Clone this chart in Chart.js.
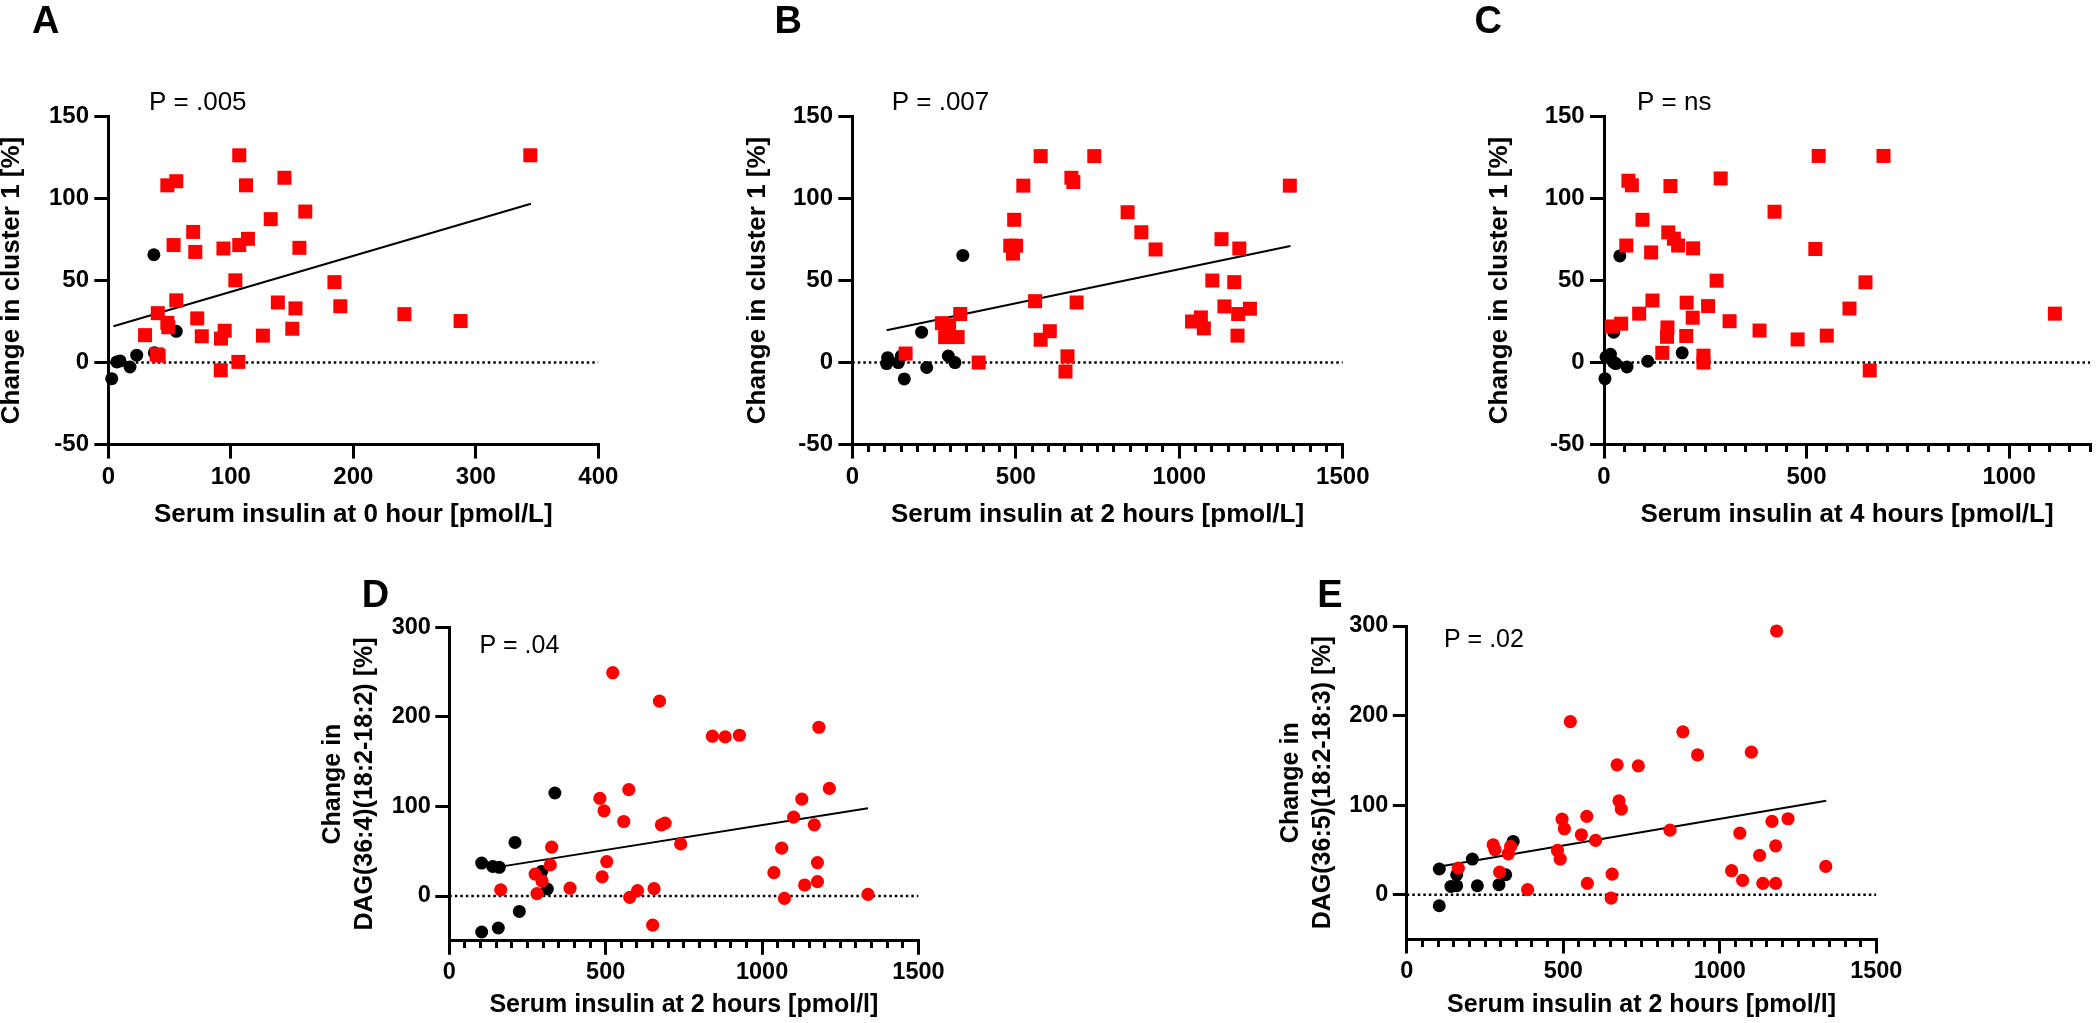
<!DOCTYPE html>
<html><head><meta charset="utf-8">
<script src="https://cdn.jsdelivr.net/npm/chart.js@4.4.1/dist/chart.umd.min.js"></script>
<style>
html,body{margin:0;padding:0;background:#fff;width:2100px;height:1023px;overflow:hidden;position:relative}
canvas{position:absolute}
</style></head><body>
<canvas id="cA"></canvas><canvas id="cB"></canvas><canvas id="cC"></canvas><canvas id="cD"></canvas><canvas id="cE"></canvas>
<script>
// ---------- tick labels ----------
const yTicksTop = [-50, 0, 50, 100, 150];
const yTicksBottom = [0, 100, 200, 300];
const xTicksA = [0, 100, 200, 300, 400];
const xTicks1500 = [0, 500, 1000, 1500];
const xTicksC = [0, 500, 1000];

// ---------- Panel A : insulin 0 h vs cluster 1 ----------
const redAx = [344.5,106.9,48.2,55.5,143.8,112.4,160.8,132.6,69.3,114.0,106.9,53.3,71.0,94.0,156.0,103.7,184.6,55.5,138.4,152.8,189.4,40.4,241.7,287.6,72.6,48.2,49.0,30.0,76.3,95.0,92.0,126.2,150.2,41.1,39.5,106.2,91.8];
const redAy = [126.3,126.3,108.0,110.5,112.6,108.0,92.0,87.4,79.6,75.4,71.6,71.6,67.4,69.5,69.9,50.1,49.0,37.9,36.6,33.0,34.3,30.1,29.5,25.3,26.9,24.2,21.5,16.7,16.0,19.4,14.6,16.4,20.6,4.2,5.0,0.4,-4.7];
const blackAx = [2.8,6.9,9.6,17.7,23.2,37.6,55.5,37.2];
const blackAy = [-9.8,0.4,1.0,-2.7,4.5,5.9,19.0,65.7];
const regAx = [4.2, 345];
const regAy = [22.1, 96.8];

// ---------- Panel B : insulin 2 h vs cluster 1 ----------
const redBx = [576,740,523,1338,670,676,495,842,884,927.5,483,501,491.5,1129,1183.5,1101,1168,559,686,1138,1216,1180,330,1039,1066,1075,274,296,284,322,604,576,1178,163,386.5,658,652];
const redBy = [125.8,125.8,107.8,107.8,112.6,110.0,87.0,91.6,79.4,68.9,71.2,71.2,66.4,75.2,69.5,50.0,49.0,37.4,36.6,34.2,32.8,29.6,29.6,25.0,27.5,20.8,24.0,22.7,15.5,15.5,19.1,13.9,16.4,5.5,0.0,3.8,-5.5];
const blackBx = [108,105,140.7,150,159,212,227.5,293.6,314,338];
const blackBy = [3.0,-0.6,0.0,4.0,-10.0,18.5,-3.0,4.0,0.0,65.3];
const regBx = [105, 1340];
const regBy = [19.7, 71.0];

// ---------- Panel C : insulin 4 h vs cluster 1 ----------
const redCx = [530,690,60.3,68.8,164,288,421,95,158.7,172.5,183,220,55,116.4,521.7,278,645.5,119.6,204,257,606,86.8,1113,310,42.3,19,219,156.6,155.5,203,384,478,550,143.9,245.5,245.5,656];
const redCy = [125.9,125.9,110.8,108.0,107.6,112.2,91.9,87.0,79.3,75.5,71.3,69.6,71.3,67.1,69.2,49.9,48.9,37.8,36.5,34.4,32.9,29.8,29.8,25.2,23.7,22.0,27.3,21.4,15.7,16.2,19.5,14.1,16.4,5.9,4.2,0.0,-4.8];
const blackCx = [2.4,5,16,22.7,29,56.8,108,193,24,39];
const blackCy = [-9.8,3.4,5.0,0.4,-0.6,-2.7,0.8,5.9,18.5,65.0];

// ---------- Panel D : insulin 2 h vs DAG(36:4) ----------
const redDx = [522.5,672,841,882,927.5,1181.5,573.9,481.4,1215,494.6,1127,557.7,678,689.8,1100.8,1166.8,739.7,327.3,1062.6,503.4,322.9,1177,274.5,296.5,488.7,1037.7,1136,1177,164.4,280.3,386,601.8,654.6,576.8,1071.4,1338.5,650.2];
const redDy = [249.3,217.5,178.4,177.6,179.5,188.4,118.7,109.0,120.1,95.1,108.2,83.2,79.5,81.3,88.1,79.5,58.2,54.5,53.4,38.4,34.7,37.3,24.5,16.8,21.4,26.1,12.3,16.0,6.9,2.6,8.7,6.0,8.2,-1.5,-2.6,1.9,-32.5];
const blackDx = [103.5,138.7,160,210,295.4,313.4,223.8,156.7,103.5,337.6];
const blackDy = [36.8,33.0,32.0,59.8,27.5,7.8,-17.2,-35.7,-40.2,115.0];
const regDx = [164.4, 1338.5];
const regDy = [32.8, 98.1];

// ---------- Panel E : insulin 2 h vs DAG(36:5) ----------
const redEx = [1181.5,522.5,882,929,1100.8,672,739.7,678,685.4,496,575,1166.8,1218,503.4,841,1064,557.7,603.2,1178.5,276,281.8,331.7,324.4,481.4,490.2,1127.2,164.4,296.5,1338.5,1037.7,656,576.8,1073,1137.5,1178.5,386,653];
const redEy = [294.4,193.3,181.8,156.1,159.1,145.0,143.9,104.8,95.5,84.4,87.4,81.8,84.8,73.6,72.1,68.8,66.9,60.6,54.6,55.8,50.2,53.9,45.7,49.4,39.8,43.9,29.7,25.3,31.6,26.8,23.0,12.6,16.0,12.6,12.6,5.6,-3.7];
const blackEx = [103.8,103.8,141,159.4,159.4,209.4,225.4,294.5,316,340];
const blackEy = [28.7,-12.3,9.3,10.0,22.3,39.8,10.0,11.2,22.3,59.5];
const regEx = [105.7, 1340];
const regEy = [31.6, 104.8];

// ---------- rendering ----------
const FONT = '"Liberation Sans", Arial, Helvetica, sans-serif';
Chart.defaults.font.family = FONT;
Chart.defaults.color = '#000';

const RED = 'rgb(255,0,0)';
const pts = (xs, ys) => xs.map((x, i) => ({x: x, y: ys[i]}));

const textPlugin = {
  id: 'panelText',
  afterDraw(chart, args, o) {
    const ctx = chart.ctx;
    ctx.save();
    ctx.fillStyle = '#000';
    ctx.textAlign = 'left';
    ctx.textBaseline = 'alphabetic';
    ctx.font = 'bold 38px ' + FONT;
    ctx.fillText(o.letter, o.lx - o.cx, o.ly - o.cy);
    ctx.font = o.ps + 'px ' + FONT;
    ctx.fillText(o.p, o.px - o.cx, o.py - o.cy);
    ctx.restore();
  }
};

function build(id, P) {
  const cv = document.getElementById(id);
  cv.width = P.cw; cv.height = P.ch;
  cv.style.left = P.cx + 'px'; cv.style.top = P.cy + 'px';
  const yLH = P.yTS * P.yTLH, xLH = P.xTS;
  const pl = P.yTitleMid - P.cx - yLH / 2;
  const pt = P.T - P.cy;
  const pr = P.cx + P.cw - P.R;
  const pb = P.cy + P.ch - (P.xTitleMid + xLH / 2);
  const Wy = P.L - P.cx - pl;
  const Hx = P.cy + P.ch - pb - P.B;

  const datasets = [
    {type: 'scatter', data: pts(P.rx, P.ry), backgroundColor: RED, borderWidth: 0,
     pointStyle: P.redStyle, pointRadius: P.redR, pointHoverRadius: P.redR, clip: false, xAxisID: 'x', yAxisID: 'y'},
    {type: 'scatter', data: pts(P.bx, P.by), backgroundColor: '#000', borderWidth: 0,
     pointStyle: 'circle', pointRadius: 6.5, pointHoverRadius: 6.5, clip: false, xAxisID: 'x', yAxisID: 'y'},
    {type: 'line', data: pts([P.xTicks[0], P.xMax], [0, 0]), borderColor: '#000', borderWidth: 2.5,
     borderDash: [2.5, 3], pointRadius: 0, showLine: true, fill: false, xAxisID: 'x', yAxisID: 'y'}
  ];
  if (P.regx) {
    datasets.push({type: 'line', data: pts(P.regx, P.regy), borderColor: '#000', borderWidth: 2,
      pointRadius: 0, showLine: true, fill: false, xAxisID: 'x', yAxisID: 'y'});
  }

  const scales = {
    x: {
      type: 'linear', position: 'bottom', min: 0, max: P.xMax,
      afterBuildTicks: s => { s.ticks = P.xTicks.map(v => ({value: v})); },
      afterFit: s => { s.height = Hx; },
      ticks: {color: '#000', font: {size: P.tS, weight: 'bold'}, padding: P.xPad, autoSkip: false, maxRotation: 0, callback: v => String(v)},
      grid: {display: true, drawOnChartArea: false, drawTicks: true, tickLength: 14, color: '#000', lineWidth: 3},
      border: {display: true, color: '#000', width: 3},
      title: {display: true, text: P.xTitle, color: '#000', font: {size: P.xTS, weight: 'bold', lineHeight: 1}, padding: 0}
    },
    y: {
      type: 'linear', position: 'left', min: P.yMin, max: P.yMax,
      afterBuildTicks: s => { s.ticks = P.yTicks.map(v => ({value: v})); },
      afterFit: s => { s.width = Wy; },
      ticks: {color: '#000', font: {size: P.tS, weight: 'bold'}, padding: P.yPad, autoSkip: false, callback: v => String(v)},
      grid: {display: true, drawOnChartArea: false, drawTicks: true, tickLength: 14, color: '#000', lineWidth: 3},
      border: {display: true, color: '#000', width: 3},
      title: {display: true, text: P.yTitle, color: '#000', font: {size: P.yTS, weight: 'bold', lineHeight: P.yTLH}, padding: 0}
    }
  };
  if (P.minor) {
    scales.xm = {
      type: 'linear', axis: 'x', position: {y: P.yMin}, min: 0, max: P.xMax,
      ticks: {display: false, stepSize: P.minor},
      grid: {display: true, drawOnChartArea: false, drawTicks: true, tickLength: 7, color: '#000', lineWidth: 3},
      border: {display: false}
    };
  }

  new Chart(cv, {
    type: 'scatter',
    data: {datasets: datasets},
    options: {
      responsive: false, animation: false, events: [],
      layout: {padding: {left: pl, right: pr, top: pt, bottom: pb}},
      scales: scales,
      plugins: {legend: {display: false}, tooltip: {enabled: false},
        panelText: {letter: P.letter, lx: P.lx, ly: P.ly, p: P.p, px: P.px, py: P.py, ps: P.ps, cx: P.cx, cy: P.cy}}
    },
    plugins: [textPlugin]
  });
}

const topCommon = {yMin: -50, yMax: 150, yTicks: yTicksTop, yTitle: 'Change in cluster 1 [%]',
  yTS: 26, yTLH: 1, xTS: 26, tS: 24, xPad: 4.3, yPad: 5.3, redStyle: 'rect', redR: 9.9, ps: 26,
  cy: 0, ch: 540, T: 116.4, B: 444.6, ly: 33, py: 110};
const botCommon = {yMin: -50, yMax: 300, yTicks: yTicksBottom, xMax: 1500, xTicks: xTicks1500, minor: 50,
  yTS: 25, yTLH: 1.28, xTS: 25, tS: 23.5, xPad: 3.6, yPad: 4.4, redStyle: 'circle', redR: 6.6, ps: 25,
  cy: 560, ch: 463, xTitleMid: 1005.3, ly: 607, xTitle: 'Serum insulin at 2 hours [pmol/l]'};

build('cA', Object.assign({}, topCommon, {
  cx: -20, cw: 680, L: 108.3, R: 598.3, yTitleMid: 11.6, xTitleMid: 514.4,
  xMax: 400, xTicks: xTicksA, minor: 0, xTitle: 'Serum insulin at 0 hour [pmol/L]',
  rx: redAx, ry: redAy, bx: blackAx, by: blackAy, regx: regAx, regy: regAy,
  letter: 'A', lx: 32, p: 'P = .005', px: 149}));
build('cB', Object.assign({}, topCommon, {
  cx: 700, cw: 720, L: 852.3, R: 1342.8, yTitleMid: 758.1, xTitleMid: 515.3,
  xMax: 1500, xTicks: xTicks1500, minor: 50, xTitle: 'Serum insulin at 2 hours [pmol/L]',
  rx: redBx, ry: redBy, bx: blackBx, by: blackBy, regx: regBx, regy: regBy,
  letter: 'B', lx: 774.5, p: 'P = .007', px: 891.7}));
build('cC', Object.assign({}, topCommon, {
  cx: 1440, cw: 660, L: 1604, R: 2097, yTitleMid: 1500.2, xTitleMid: 514.4,
  xMax: 1200, xTicks: xTicksC, minor: 50, xTitle: 'Serum insulin at 4 hours [pmol/L]',
  rx: redCx, ry: redCy, bx: blackCx, by: blackCy,
  letter: 'C', lx: 1474.4, p: 'P = ns', px: 1637}));
build('cD', Object.assign({}, botCommon, {
  cx: 290, cw: 700, L: 449.3, R: 918.5, T: 627.3, B: 940.8, yTitleMid: 333.4,
  yTitle: ['Change in', 'DAG(36:4)(18:2-18:2) [%]'],
  rx: redDx, ry: redDy, bx: blackDx, by: blackDy, regx: regDx, regy: regDy,
  letter: 'D', lx: 361.8, p: 'P = .04', px: 479.4, py: 653}));
build('cE', Object.assign({}, botCommon, {
  cx: 1250, cw: 700, L: 1406.8, R: 1876.3, T: 626, B: 939.5, yTitleMid: 1291.1,
  yTitle: ['Change in', 'DAG(36:5)(18:2-18:3) [%]'],
  rx: redEx, ry: redEy, bx: blackEx, by: blackEy, regx: regEx, regy: regEy,
  letter: 'E', lx: 1317.2, p: 'P = .02', px: 1444, py: 646.7}));
</script>
</body></html>
